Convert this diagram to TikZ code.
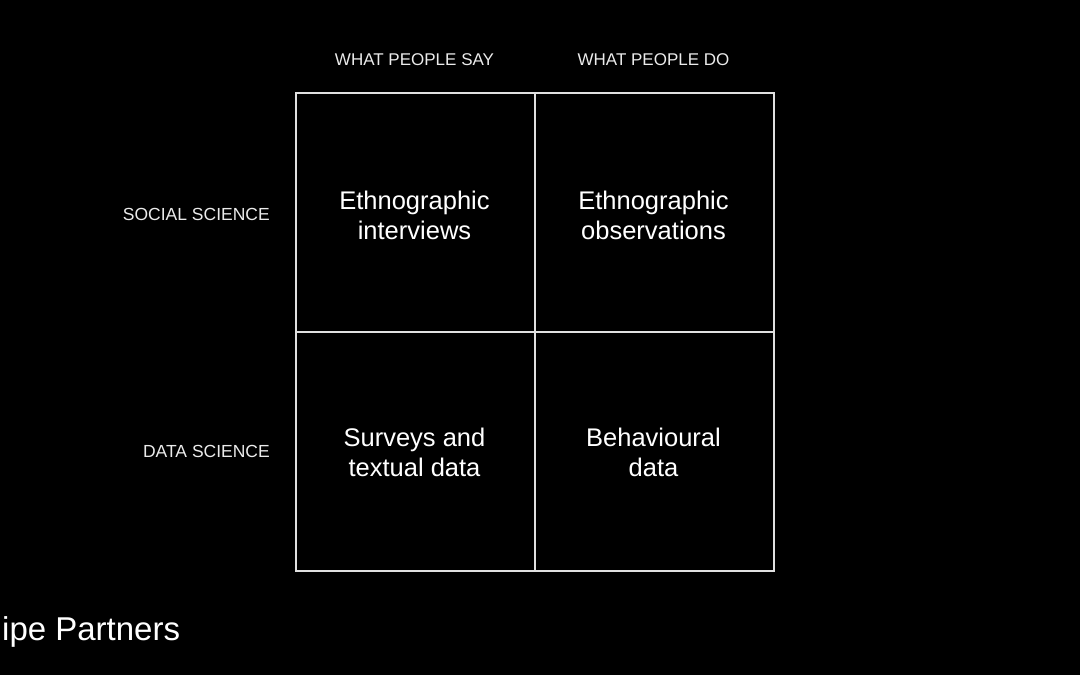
\documentclass[tikz,border=0pt]{standalone}
\usepackage{fontspec}
\setmainfont{Liberation Sans}
\begin{document}
\begin{tikzpicture}[x=1pt,y=-1pt,
  cellbox/.style={draw=white!88!black,line width=2pt,minimum width=239pt,minimum height=239pt,inner sep=0pt,anchor=north west},
  celltext/.style={text=white,align=center,font=\fontsize{25.5}{30}\selectfont},
  head/.style={text=white!92!black,font=\fontsize{17}{20}\selectfont},
  rowlab/.style={text=white!92!black,font=\fontsize{17.5}{20}\selectfont,anchor=east,inner sep=0pt}]
\fill[black] (0,0) rectangle (1080,675);
\useasboundingbox (0,0) rectangle (1080,675);
\node[cellbox] (c11) at (295,92) {};
\node[cellbox] (c12) at (534,92) {};
\node[cellbox] (c21) at (295,331) {};
\node[cellbox] (c22) at (534,331) {};
\node[celltext] (t11) at (414.5,215) {Ethnographic\\interviews};
\node[celltext] (t12) at (653.5,215) {Ethnographic\\observations};
\node[celltext] (t21) at (414.5,452) {Surveys and\\textual data};
\node[celltext] (t22) at (653.5,452) {Behavioural\\data};
\node[head] (h1) at (414.5,60) {WHAT PEOPLE SAY};
\node[head] (h2) at (653.5,60) {WHAT PEOPLE DO};
\node[rowlab] (r1) at (270,214) {SOCIAL SCIENCE};
\node[rowlab] (r2) at (270,451) {DATA SCIENCE};
\node[text=white,font=\fontsize{33}{38}\selectfont,anchor=west,inner sep=0pt] (logo) at (2,632) {ipe Partners};
\end{tikzpicture}
\end{document}
